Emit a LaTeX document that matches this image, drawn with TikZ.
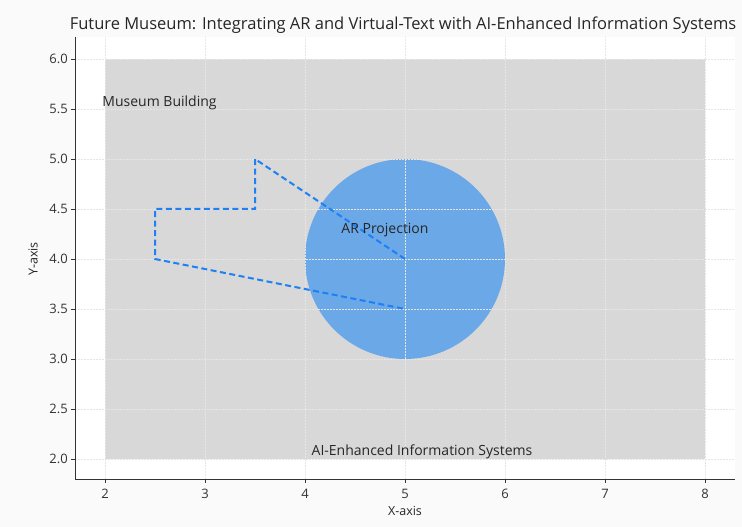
\documentclass[tikz,border=0pt]{standalone}
\usepackage{fontspec}
\setmainfont{Open Sans}
\definecolor{figbg}{HTML}{FAFAFA}
\definecolor{bldg}{HTML}{D8D8D8}
\definecolor{arfill}{RGB}{106,168,232}
\definecolor{pathblue}{RGB}{30,128,245}
\definecolor{gridc}{HTML}{E6E6E6}
\definecolor{axisc}{HTML}{333333}
\begin{document}
\begin{tikzpicture}[
  x=100pt, y=100pt, shift={(-95pt,-132pt)},
  ticklab/.style={font=\fontsize{13}{15}\selectfont, text=axisc, inner sep=0pt},
  gridline/.style={gridc, line width=0.6pt, dash pattern=on 1.5pt off 1.5pt},
  spine/.style={axisc, line width=0.9pt},
  label/.style={font=\fontsize{14}{16}\selectfont, text=black!85, inner sep=0pt}
]
% figure and axes backgrounds
\fill[figbg] (0.95,1.32) rectangle (8.37,6.59);
\useasboundingbox (0.95,1.32) rectangle (8.37,6.59);
\fill[white] (1.7,1.8) rectangle (8.3,6.22);

% museum building
\fill[bldg] (2,2) rectangle (8,6);

% AR projection disc
\fill[arfill] (5,4) circle (1);

% grid
\foreach \gx in {2,...,8} \draw[gridline] (\gx,1.8) -- (\gx,6.22);
\foreach \gy in {2.0,2.5,...,6.0} \draw[gridline] (1.7,\gy) -- (8.3,\gy);

% virtual-text path
\coordinate (p0) at (5,4);
\coordinate (p1) at (3.5,5);
\coordinate (p2) at (3.5,4.5);
\coordinate (p3) at (2.5,4.5);
\coordinate (p4) at (2.5,4.0);
\coordinate (p5) at (5,3.5);
\draw[pathblue, line width=2pt, dash pattern=on 6pt off 3.5pt]
  (p0) -- (p1) -- (p2) -- (p3) -- (p4) -- (p5);

% labels
\node[label] (mb) at (2.545,5.56) {Museum Building};
\node[label] (ar) at (4.8,4.29) {AR Projection};
\node[label] (ai) at (5.17,2.07) {AI-Enhanced Information Systems};

% spines and ticks
\draw[spine] (1.7,6.22) -- (1.7,1.8) -- (8.3,1.8);
\foreach \gx in {2,...,8} {
  \draw[spine] (\gx,1.8) -- (\gx,1.76);
  \node[ticklab] (xt\gx) at (\gx,1.655) {\gx};
}
\foreach \gy/\lab in {2.0/2.0,2.5/2.5,3.0/3.0,3.5/3.5,4.0/4.0,4.5/4.5,5.0/5.0,5.5/5.5,6.0/6.0} {
  \draw[spine] (1.7,\gy) -- (1.66,\gy);
  \node[ticklab, anchor=east] (yt) at (1.63,\gy) {\lab};
}

% axis titles
\node[label, font=\fontsize{12.5}{14}\selectfont] (xl) at (5,1.48) {X-axis};
\node[label, font=\fontsize{12.5}{14}\selectfont, rotate=90] (yl) at (1.28,4.0) {Y-axis};
\node[label, font=\fontsize{16.5}{18}\selectfont] (title) at (4.98,6.34) {Future Museum: Integrating AR and Virtual-Text with AI-Enhanced Information Systems};
\end{tikzpicture}
\end{document}
